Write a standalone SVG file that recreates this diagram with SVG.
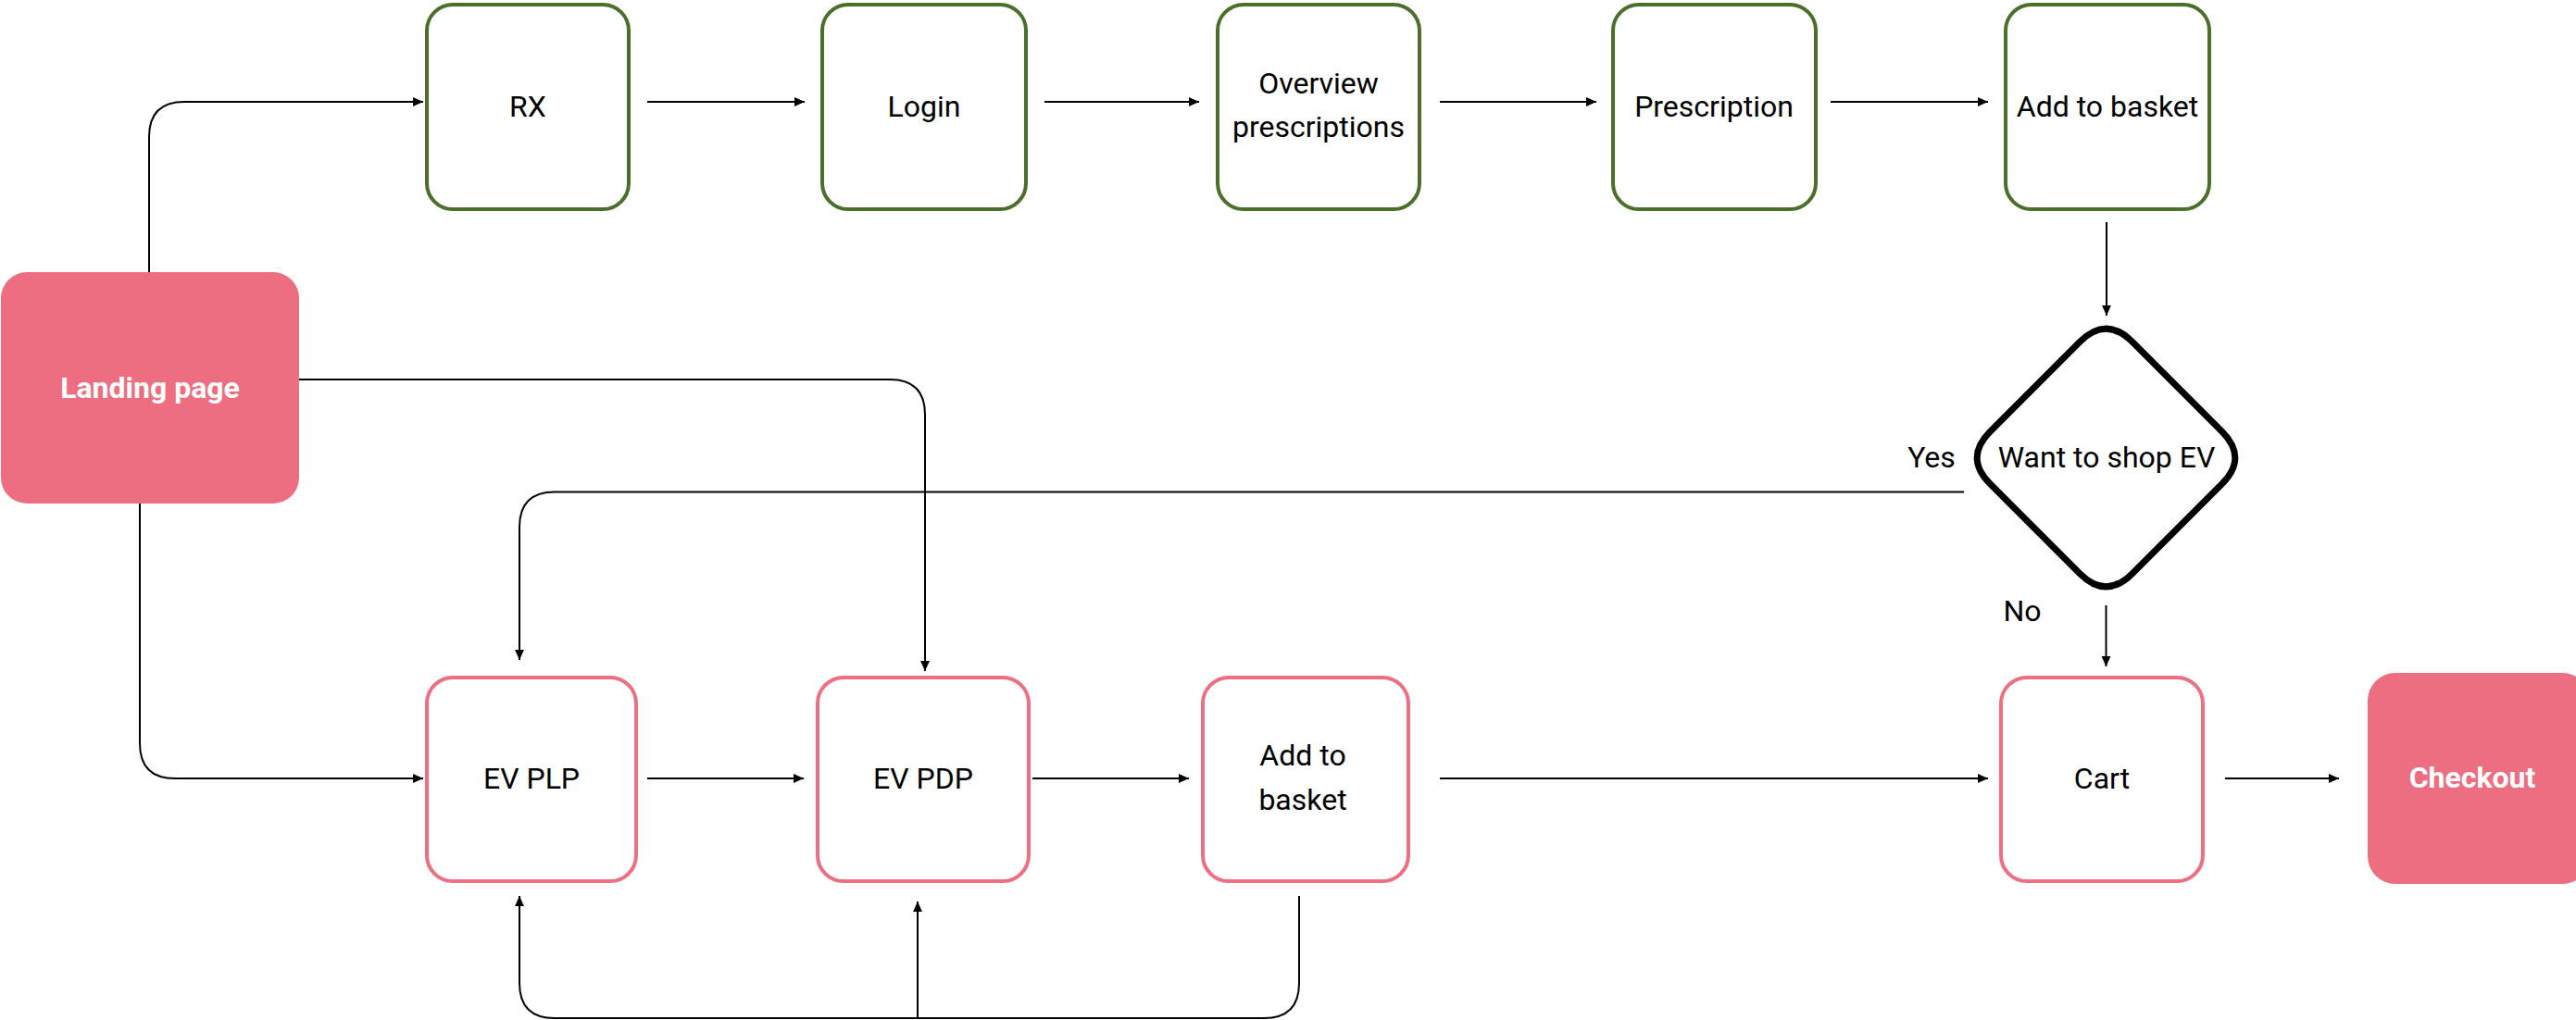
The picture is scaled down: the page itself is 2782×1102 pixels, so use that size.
<svg xmlns="http://www.w3.org/2000/svg" width="2782" height="1102" viewBox="0 0 2782 1102">
<style>
.g{fill:#fff;stroke:#4a6f2a;stroke-width:4}
.p{fill:#fff;stroke:#ed6f81;stroke-width:4}
.f{fill:#ec6e80}
.t{font-family:Roboto,"Liberation Sans",sans-serif;font-size:32px;fill:#000;text-anchor:middle}
.w{font-family:Roboto,"Liberation Sans",sans-serif;font-size:32px;font-weight:bold;fill:#fff;text-anchor:middle}
.c{fill:none;stroke:#000;stroke-width:2}
</style>
<defs>
<marker id="a" markerUnits="userSpaceOnUse" markerWidth="11" markerHeight="11" viewBox="0 0 10 10" refX="10" refY="5" orient="auto">
<path d="M0,0.5 L10,5 L0,9.5 Z" fill="#000"/>
</marker>
</defs>
<rect width="2782" height="1102" fill="#fff"/>
<g id="connectors">
<path class="c" d="M161,294 V148 Q161,110 199,110 H457" marker-end="url(#a)"/>
<path class="c" d="M699,110 H869" marker-end="url(#a)"/>
<path class="c" d="M1128,110 H1295" marker-end="url(#a)"/>
<path class="c" d="M1555,110 H1724" marker-end="url(#a)"/>
<path class="c" d="M1977,110 H2147" marker-end="url(#a)"/>
<path class="c" d="M2275,240 V341" marker-end="url(#a)"/>
<path class="c" d="M2274.5,654 V720" marker-end="url(#a)"/>
<path class="c" d="M2121,531.5 H599 Q561,531.5 561,569.5 V713" marker-end="url(#a)"/>
<path class="c" d="M323,410 H961 Q999,410 999,448 V725" marker-end="url(#a)"/>
<path class="c" d="M151,544 V803 Q151,841 189,841 H457" marker-end="url(#a)"/>
<path class="c" d="M699,841 H868" marker-end="url(#a)"/>
<path class="c" d="M1115,841 H1284" marker-end="url(#a)"/>
<path class="c" d="M1555,841 H2147" marker-end="url(#a)"/>
<path class="c" d="M2403,841 H2526" marker-end="url(#a)"/>
<path class="c" d="M1403,968 V1062 Q1403,1100 1365,1100 H599 Q561,1100 561,1062 V968" marker-end="url(#a)"/>
<path class="c" d="M991,1100 V974" marker-end="url(#a)"/>
</g>
<g id="landing"><rect class="f" x="1" y="294" width="322" height="250" rx="28"/><text class="w" x="162" y="430">Landing page</text></g>
<g id="rx"><rect class="g" x="461" y="5" width="218" height="221" rx="28"/><text class="t" x="570" y="126">RX</text></g>
<g id="login"><rect class="g" x="888" y="5" width="220" height="221" rx="28"/><text class="t" x="998" y="126">Login</text></g>
<g id="overview"><rect class="g" x="1315" y="5" width="218" height="221" rx="28"/><text class="t" x="1424" y="101">Overview</text><text class="t" x="1424" y="148">prescriptions</text></g>
<g id="prescription"><rect class="g" x="1742" y="5" width="219" height="221" rx="28"/><text class="t" x="1851" y="126">Prescription</text></g>
<g id="addrx"><rect class="g" x="2166" y="5" width="220" height="221" rx="28"/><text class="t" x="2276" y="126">Add to basket</text></g>
<g id="decision"><path d="M2246.2,369.3 Q2274.5,341 2302.8,369.3 L2399.7,466.2 Q2428,494.5 2399.7,522.8 L2302.8,619.7 Q2274.5,648 2246.2,619.7 L2149.3,522.8 Q2121,494.5 2149.3,466.2 Z" fill="#fff" stroke="#000" stroke-width="7" stroke-linejoin="round"/><text class="t" x="2275" y="505">Want to shop EV</text></g>
<g id="labels"><text class="t" x="2086" y="505">Yes</text><text class="t" x="2184" y="671">No</text></g>
<g id="evplp"><rect class="p" x="461" y="732" width="226" height="220" rx="28"/><text class="t" x="574" y="852">EV PLP</text></g>
<g id="evpdp"><rect class="p" x="883" y="732" width="228" height="220" rx="28"/><text class="t" x="997" y="852">EV PDP</text></g>
<g id="addev"><rect class="p" x="1299" y="732" width="222" height="220" rx="28"/><text class="t" x="1407" y="827">Add to</text><text class="t" x="1407" y="875">basket</text></g>
<g id="cart"><rect class="p" x="2161" y="732" width="218" height="220" rx="28"/><text class="t" x="2270" y="852">Cart</text></g>
<g id="checkout"><rect class="f" x="2557" y="727" width="240" height="228" rx="30"/><text class="w" x="2670" y="851">Checkout</text></g>
</svg>
